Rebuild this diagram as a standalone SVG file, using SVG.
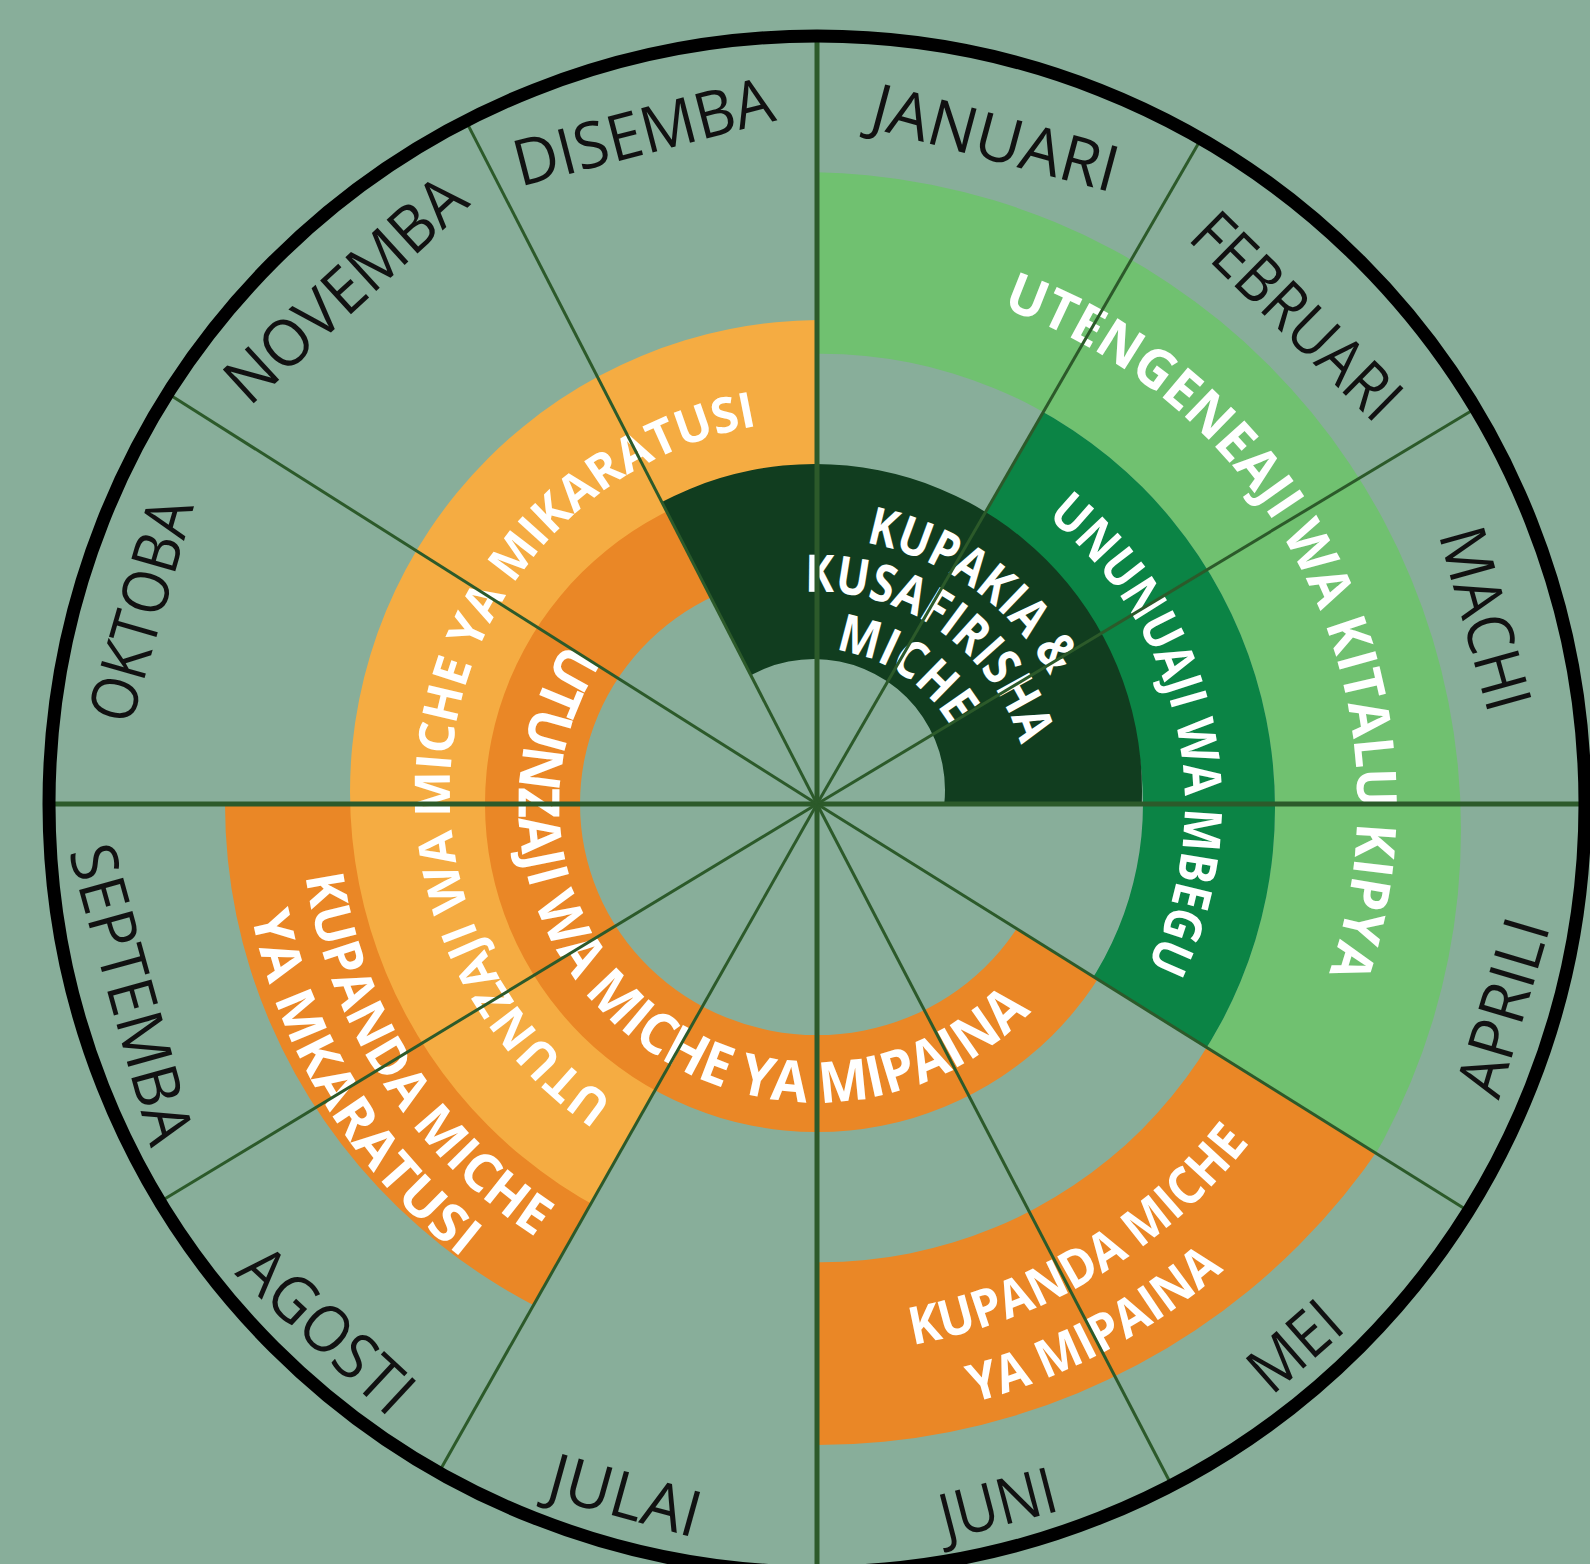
<svg xmlns="http://www.w3.org/2000/svg" width="1590" height="1564" viewBox="0 0 1590 1564">
<style>
.month{font-family:'Open Sans','Liberation Sans',sans-serif;font-size:64px;fill:#111;}
.lbl{font-family:'Open Sans','Liberation Sans',sans-serif;font-weight:700;fill:#fff;}
.div{stroke:#2c5a2a;stroke-width:3;fill:none;}
.axis{stroke:#2c5a2a;stroke-width:5;fill:none;}
.band{fill-rule:evenodd;}
</style>
<defs>
<clipPath id="wLG"><polygon points="817,804 817,-196 1317,-62 1683,304 1817,804 1665,1334"/></clipPath>
<clipPath id="wMG"><polygon points="817,804 1317,-62 1683,304 1817,804 1665,1334"/></clipPath>
<clipPath id="wDG"><polygon points="817,804 359.9,-85.4 817,-196 1524.1,96.9 1817,804"/></clipPath>
<clipPath id="wMK"><polygon points="817,804 324.6,1674.4 -49,1304 -183,804"/></clipPath>
<clipPath id="wLO"><polygon points="817,804 324.6,1674.4 -49,1304 -183,804 -49,304 317,-62 817,-196"/></clipPath>
<clipPath id="wMO"><polygon points="817,804 1665,1334 1317,1670 817,1804 317,1670 -49,1304 -183,804 -49,304 359.9,-85.4"/></clipPath>
<clipPath id="wMP"><polygon points="817,804 1665,1334 1317,1670 817,1804"/></clipPath>
<path id="tp1" d="M 602.6 319.4 A 540 528 0 0 1 1065.5 1272.8"/>
<path id="tp2" d="M 749.3 442.3 A 368 368 0 0 1 909.8 1160.1"/>
<path id="tp3" d="M 732 1153 A 372 372 0 0 1 886.6 425.7"/>
<path id="tp4" d="M 577.4 626.7 A 298 298 0 0 0 1043.6 997.5"/>
<path id="tp5a" d="M 607.1 640.6 A 266 266 0 0 1 1037.8 952.3"/>
<path id="tp5b" d="M 648.4 675.5 A 212 212 0 0 1 994.2 920.4"/>
<path id="tp5c" d="M 690.5 714.4 A 155 155 0 0 1 949.4 884.5"/>
<path id="tp6a" d="M 524.2 377.9 A 517 517 0 0 0 1079.4 1249.4"/>
<path id="tp6b" d="M 499.1 323.7 A 576 576 0 0 0 1100.6 1305.4"/>
<path id="tp7a" d="M 356.6 1103 A 549 549 0 0 0 1297.2 537.8"/>
<path id="tp7b" d="M 282.1 1111.6 A 617 617 0 0 0 1372.1 534.5"/>
</defs>
<rect x="0" y="0" width="1590" height="1564" fill="#88ae9a"/>

<g id="band-utengeneaji">
<path class="band" fill="#70c170" clip-path="url(#wLG)" d="M 145 830 A 658 658 0 1 0 1461 830 A 658 658 0 1 0 145 830 Z M 367 808 A 454 454 0 1 0 1275 808 A 454 454 0 1 0 367 808 Z"/>
</g>
<g id="band-ununuaji">
<path class="band" fill="#0b8445" clip-path="url(#wMG)" d="M 367 808 A 454 454 0 1 0 1275 808 A 454 454 0 1 0 367 808 Z M 491 804 A 326 326 0 1 0 1143 804 A 326 326 0 1 0 491 804 Z"/>
</g>
<g id="band-kupanda-mkaratusi">
<path class="band" fill="#ea8726" clip-path="url(#wMK)" d="M 225 804 A 592 571 0 1 0 1409 804 A 592 571 0 1 0 225 804 Z M 387 804 A 430 430 0 1 0 1247 804 A 430 430 0 1 0 387 804 Z"/>
</g>
<g id="band-utunzaji-mikaratusi">
<path class="band" fill="#f5ac42" clip-path="url(#wLO)" d="M 350 792 A 472 472 0 1 0 1294 792 A 472 472 0 1 0 350 792 Z M 517 804 A 300 300 0 1 0 1117 804 A 300 300 0 1 0 517 804 Z"/>
</g>
<g id="band-kupakia">
<path class="band" fill="#113d1f" clip-path="url(#wDG)" d="M 488 791 A 327 327 0 1 0 1142 791 A 327 327 0 1 0 488 791 Z M 683 790 A 131 131 0 1 0 945 790 A 131 131 0 1 0 683 790 Z"/>
</g>
<g id="band-utunzaji-mipaina">
<path class="band" fill="#ea8726" clip-path="url(#wMO)" d="M 485 804 A 332 328 0 1 0 1149 804 A 332 328 0 1 0 485 804 Z M 580 804 A 237 231 0 1 0 1054 804 A 237 231 0 1 0 580 804 Z"/>
</g>
<g id="band-kupanda-mipaina">
<path class="band" fill="#ea8726" clip-path="url(#wMP)" d="M 136 764 A 681 681 0 1 0 1498 764 A 681 681 0 1 0 136 764 Z M 367 808 A 454 454 0 1 0 1275 808 A 454 454 0 1 0 367 808 Z"/>
</g>

<g id="labels">
<text class="lbl" font-size="55"><textPath href="#tp1" startOffset="50%" text-anchor="middle" textLength="823" lengthAdjust="spacingAndGlyphs">UTENGENEAJI WA KITALU KIPYA</textPath></text>
<text class="lbl" font-size="52"><textPath href="#tp2" startOffset="50%" text-anchor="middle" textLength="497" lengthAdjust="spacingAndGlyphs">UNUNUAJI WA MBEGU</textPath></text>
<text class="lbl" font-size="49"><textPath href="#tp3" startOffset="50%" text-anchor="middle" textLength="883" lengthAdjust="spacingAndGlyphs">UTUNZAJI WA MICHE YA MIKARATUSI</textPath></text>
<text class="lbl" font-size="57"><textPath href="#tp4" startOffset="50%" text-anchor="middle" textLength="879" lengthAdjust="spacingAndGlyphs">UTUNZAJI WA MICHE YA MIPAINA</textPath></text>
<text class="lbl" font-size="52"><textPath href="#tp5a" startOffset="50%" text-anchor="middle" textLength="235" lengthAdjust="spacingAndGlyphs">KUPAKIA &amp;</textPath></text>
<text class="lbl" font-size="52"><textPath href="#tp5b" startOffset="50%" text-anchor="middle" textLength="285" lengthAdjust="spacingAndGlyphs">KUSAFIRISHA</textPath></text>
<text class="lbl" font-size="52"><textPath href="#tp5c" startOffset="50%" text-anchor="middle" textLength="143" lengthAdjust="spacingAndGlyphs">MICHE</textPath></text>
<text class="lbl" font-size="53"><textPath href="#tp6a" startOffset="50%" text-anchor="middle" textLength="442" lengthAdjust="spacingAndGlyphs">KUPANDA MICHE</textPath></text>
<text class="lbl" font-size="53"><textPath href="#tp6b" startOffset="50%" text-anchor="middle" textLength="412" lengthAdjust="spacingAndGlyphs">YA MKARATUSI</textPath></text>
<text class="lbl" font-size="52"><textPath href="#tp7a" startOffset="50%" text-anchor="middle" textLength="402" lengthAdjust="spacingAndGlyphs">KUPANDA MICHE</textPath></text>
<text class="lbl" font-size="52"><textPath href="#tp7b" startOffset="50%" text-anchor="middle" textLength="286" lengthAdjust="spacingAndGlyphs">YA MIPAINA</textPath></text>
</g>

<g id="connectors">
<line class="axis" x1="817" y1="36" x2="817" y2="1572"/>
<line class="axis" x1="49" y1="804" x2="1585" y2="804"/>
<line class="div" x1="817" y1="804" x2="1201" y2="138.9"/>
<line class="div" x1="817" y1="804" x2="1475.3" y2="408.5"/>
<line class="div" x1="817" y1="804" x2="1468.3" y2="1211"/>
<line class="div" x1="817" y1="804" x2="1171.6" y2="1485.2"/>
<line class="div" x1="817" y1="804" x2="438.8" y2="1472.5"/>
<line class="div" x1="817" y1="804" x2="160" y2="1201.8"/>
<line class="div" x1="817" y1="804" x2="167.8" y2="393.6"/>
<line class="div" x1="817" y1="804" x2="465.9" y2="120.9"/>
</g>

<g id="rim">
<circle cx="817" cy="804" r="768" fill="none" stroke="#000" stroke-width="13"/>
</g>

<g id="months">
<text class="month" transform="translate(817 804) rotate(15)" x="0" y="-667" text-anchor="middle" textLength="253" lengthAdjust="spacingAndGlyphs">JANUARI</text>
<text class="month" transform="translate(817 804) rotate(44.5)" x="0" y="-662" text-anchor="middle" textLength="265" lengthAdjust="spacingAndGlyphs">FEBRUARI</text>
<text class="month" transform="translate(817 804) rotate(74.5)" x="0" y="-671" text-anchor="middle" textLength="187" lengthAdjust="spacingAndGlyphs">MACHI</text>
<text class="month" transform="translate(817 804) rotate(-73.5)" x="0" y="738" text-anchor="middle" textLength="182" lengthAdjust="spacingAndGlyphs">APRILI</text>
<text class="month" transform="translate(817 804) rotate(-41.4)" x="0" y="745" text-anchor="middle" textLength="101" lengthAdjust="spacingAndGlyphs">MEI</text>
<text class="month" transform="translate(817 804) rotate(-14.5)" x="0" y="745" text-anchor="middle" textLength="119" lengthAdjust="spacingAndGlyphs">JUNI</text>
<text class="month" transform="translate(817 804) rotate(15.5)" x="0" y="740" text-anchor="middle" textLength="155" lengthAdjust="spacingAndGlyphs">JULAI</text>
<text class="month" transform="translate(817 804) rotate(43)" x="0" y="741" text-anchor="middle" textLength="212" lengthAdjust="spacingAndGlyphs">AGOSTI</text>
<text class="month" transform="translate(817 804) rotate(74.5)" x="0" y="734" text-anchor="middle" textLength="308" lengthAdjust="spacingAndGlyphs">SEPTEMBA</text>
<text class="month" transform="translate(817 804) rotate(-74)" x="0" y="-681" text-anchor="middle" textLength="229" lengthAdjust="spacingAndGlyphs">OKTOBA</text>
<text class="month" transform="translate(817 804) rotate(-42.5)" x="0" y="-676" text-anchor="middle" textLength="301" lengthAdjust="spacingAndGlyphs">NOVEMBA</text>
<text class="month" transform="translate(817 804) rotate(-14.5)" x="0" y="-672" text-anchor="middle" textLength="266" lengthAdjust="spacingAndGlyphs">DISEMBA</text>
</g>
</svg>
